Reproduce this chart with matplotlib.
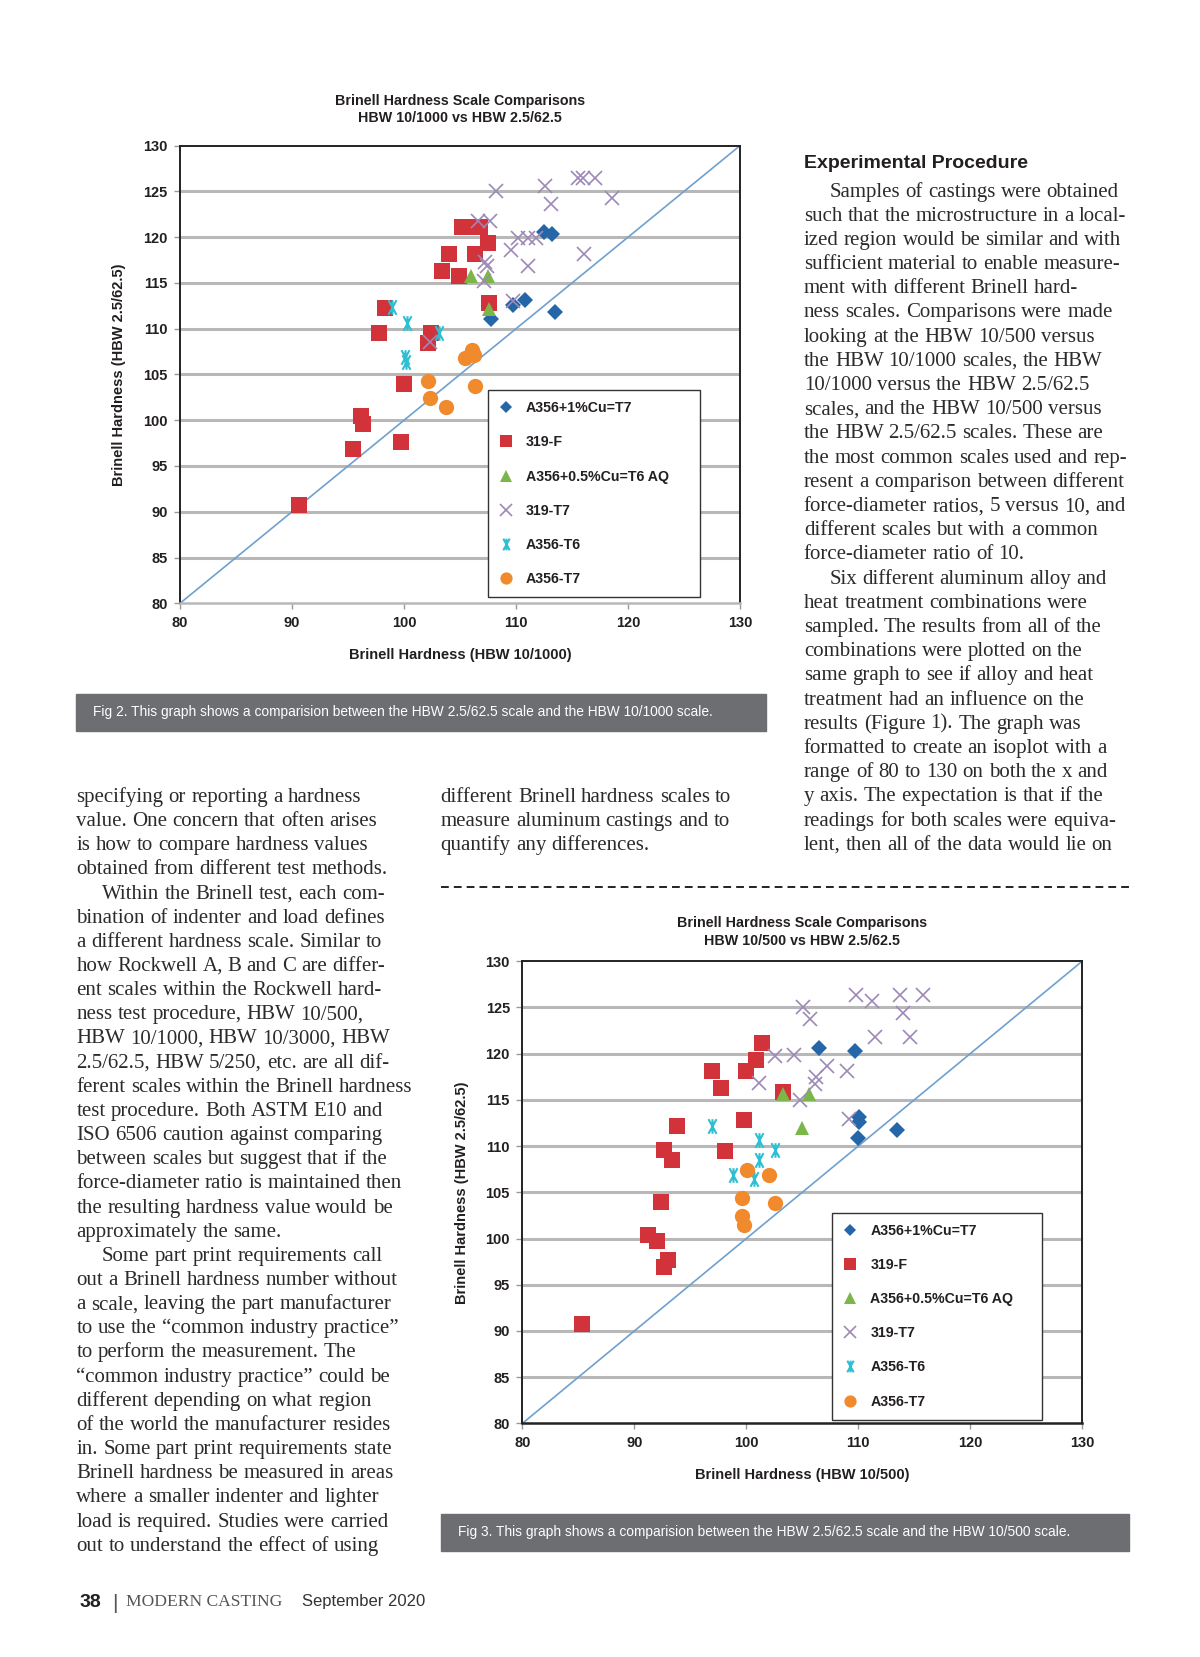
import matplotlib
matplotlib.use("Agg")
import matplotlib.pyplot as plt
from matplotlib.lines import Line2D
from matplotlib.patches import Rectangle
from matplotlib.path import Path

# ---------------- data ----------------
series_names = ["A356+1%Cu=T7", "319-F", "A356+0.5%Cu=T6 AQ", "319-T7", "A356-T6", "A356-T7"]

# Fig 2: HBW 10/1000 (x) vs HBW 2.5/62.5 (y)
f2_cu1_x = [112.5, 113.2, 109.7, 110.8, 113.5, 107.8]
f2_cu1_y = [120.6, 120.3, 112.6, 113.1, 111.8, 111.0]
f2_319f_x = [105.2, 106.0, 106.8, 107.5, 104.0, 106.3, 103.4, 104.9, 107.6, 98.3, 97.8,
             102.4, 102.1, 100.0, 96.2, 96.3, 95.4, 99.7, 90.6]
f2_319f_y = [121.1, 121.1, 121.1, 119.3, 118.1, 118.1, 116.3, 115.7, 112.8, 112.2, 109.5,
             109.5, 108.4, 104.0, 100.5, 99.6, 96.9, 97.6, 90.7]
f2_cu05_x = [106.0, 107.5, 107.6]
f2_cu05_y = [115.7, 115.7, 112.1]
f2_319t7_x = [115.5, 116.0, 117.0, 112.6, 108.2, 113.1, 118.6, 106.6, 107.7, 110.2, 111.1,
              111.8, 109.5, 116.1, 107.2, 107.4, 111.1, 107.1, 109.7, 102.3]
f2_319t7_y = [126.4, 126.4, 126.4, 125.6, 125.0, 123.6, 124.3, 121.8, 121.8, 119.9, 119.9,
              119.9, 118.6, 118.1, 117.3, 116.8, 116.8, 115.2, 113.0, 108.5]
f2_t6_x = [98.9, 100.3, 103.1, 100.1, 100.2]
f2_t6_y = [112.4, 110.6, 109.5, 106.9, 106.4]
f2_t7_x = [105.4, 106.1, 106.2, 102.1, 106.3, 102.3, 103.7]
f2_t7_y = [106.8, 107.7, 107.1, 104.3, 103.7, 102.4, 101.4]

# Fig 3: HBW 10/500 (x) vs HBW 2.5/62.5 (y)
f3_cu1_x = [106.5, 109.7, 110.1, 110.1, 110.0, 113.5]
f3_cu1_y = [120.6, 120.3, 113.2, 112.6, 110.9, 111.7]
f3_319f_x = [101.4, 100.9, 100.0, 96.9, 97.7, 103.3, 93.8, 99.8, 92.6, 93.4, 98.1,
             92.4, 91.2, 92.0, 93.0, 92.6, 85.3]
f3_319f_y = [121.2, 119.3, 118.1, 118.1, 116.3, 115.8, 112.2, 112.8, 109.6, 108.5, 109.5,
             104.0, 100.4, 99.7, 97.7, 96.9, 90.8]
f3_cu05_x = [103.3, 105.6, 105.0]
f3_cu05_y = [115.6, 115.6, 112.0]
f3_319t7_x = [109.8, 111.2, 113.7, 115.8, 105.1, 105.7, 114.0, 111.5, 114.6, 102.6, 104.3,
              107.2, 109.0, 101.1, 106.2, 106.1, 104.8, 109.2]
f3_319t7_y = [126.3, 125.7, 126.3, 126.3, 125.0, 123.7, 124.4, 121.8, 121.8, 119.8, 119.9,
              118.7, 118.1, 116.8, 117.5, 116.7, 115.0, 112.9]
f3_t6_x = [96.9, 101.1, 102.6, 101.1, 98.8, 100.7]
f3_t6_y = [112.2, 110.7, 109.6, 108.5, 106.9, 106.4]
f3_t7_x = [100.1, 102.0, 99.6, 102.6, 99.6, 99.8]
f3_t7_y = [107.4, 106.9, 104.4, 103.8, 102.4, 101.5]

ticks = [80, 85, 90, 95, 100, 105, 110, 115, 120, 125, 130]
xticks = [80, 90, 100, 110, 120, 130]

# ---------------- styles ----------------
SANS = ["Liberation Sans", "DejaVu Sans"]
SERIF = ["Liberation Serif", "DejaVu Serif"]
INK = "#231f20"

# excel style "star": an X with a vertical bar through it
star = Path([(-0.55, -1), (0.55, 1), (-0.55, 1), (0.55, -1), (0, -1), (0, 1)],
            [Path.MOVETO, Path.LINETO, Path.MOVETO, Path.LINETO, Path.MOVETO, Path.LINETO])

styles = [
    dict(marker="D", color="#2466a8", ms=8.0, mew=0, mfc="#2466a8"),
    dict(marker="s", color="#d2323a", ms=11.5, mew=0, mfc="#d2323a"),
    dict(marker="^", color="#7ab648", ms=10, mew=0, mfc="#7ab648"),
    dict(marker="x", color="#9d88b8", ms=10, mew=1.2, mfc="#9d88b8"),
    dict(marker=star, color="#2cc0d2", ms=10.5, mew=1.5, mfc="none"),
    dict(marker="o", color="#f08a2c", ms=11, mew=0, mfc="#f08a2c"),
]

W, H = 1130.0, 1560.0  # page coordinates used for layout
fig = plt.figure(figsize=(12, 16.57), dpi=100)
fig.patch.set_facecolor("white")


def fx(x):
    return x / W


def fy(y):
    return 1 - y / H


def chart(rect, data, title2, xlabel, leg_box, bottom_col, tpad):
    ax = fig.add_axes(rect)
    ax.set_xlim(80, 130)
    ax.set_ylim(80, 130)
    for yv in ticks[1:-1]:
        ax.axhline(yv, color="#b8b8b8", lw=2.2, zorder=0)
    ax.plot([80, 130], [80, 130], color="#6fa0cf", lw=1.2, zorder=1)
    handles = []
    for (xs, ys), st, name in zip(data, styles, series_names):
        ax.plot(xs, ys, ls="none", marker=st["marker"], color=st["color"], mfc=st["mfc"],
                mec=st["color"], ms=st["ms"], mew=st["mew"], zorder=3)
        handles.append(Line2D([], [], ls="none", marker=st["marker"], color=st["color"],
                              mfc=st["mfc"], mec=st["color"],
                              ms=st["ms"] * 0.8, mew=st["mew"], label=name))
    for side in ["top", "right", "left"]:
        ax.spines[side].set_color("#222222")
        ax.spines[side].set_linewidth(1.4)
    ax.spines["bottom"].set_color(bottom_col)
    ax.spines["bottom"].set_linewidth(1.8)
    ax.set_yticks(ticks)
    ax.set_xticks(xticks)
    ax.tick_params(axis="both", length=4, width=1, color="#999999", labelsize=10.5,
                   labelcolor=INK, pad=5)
    for lab in ax.get_xticklabels() + ax.get_yticklabels():
        lab.set_fontfamily(SANS)
        lab.set_fontweight("bold")
    ax.set_xlabel(xlabel, fontsize=10.5, fontweight="bold", family=SANS, color=INK, labelpad=13)
    ax.set_ylabel("Brinell Hardness (HBW 2.5/62.5)", fontsize=10.5, fontweight="bold",
                  family=SANS, color=INK, labelpad=12)
    ax.set_title("Brinell Hardness Scale Comparisons\n" + title2, fontsize=10.3,
                 fontweight="bold", family=SANS, color=INK, pad=tpad, linespacing=1.3)
    leg = ax.legend(handles=handles, loc="upper left", bbox_to_anchor=leg_box, mode="expand",
                    frameon=True, fancybox=False, edgecolor="#333333", framealpha=1,
                    prop=dict(family=SANS, weight="bold", size=10.2),
                    labelspacing=1.42, handlelength=1.0, handletextpad=0.9,
                    borderpad=0.8, borderaxespad=0)
    leg.get_frame().set_linewidth(1.0)
    for t in leg.get_texts():
        t.set_color(INK)
    return ax


data2 = [(f2_cu1_x, f2_cu1_y), (f2_319f_x, f2_319f_y), (f2_cu05_x, f2_cu05_y),
         (f2_319t7_x, f2_319t7_y), (f2_t6_x, f2_t6_y), (f2_t7_x, f2_t7_y)]
data3 = [(f3_cu1_x, f3_cu1_y), (f3_319f_x, f3_319f_y), (f3_cu05_x, f3_cu05_y),
         (f3_319t7_x, f3_319t7_y), (f3_t6_x, f3_t6_y), (f3_t7_x, f3_t7_y)]

chart([fx(169.5), fy(568), fx(697) - fx(169.5), fy(137) - fy(568)], data2,
      "HBW 10/1000 vs HBW 2.5/62.5", "Brinell Hardness (HBW 10/1000)",
      (0.549, 0.02, 0.379, 0.446), "#b8b8b8", 17)
chart([fx(492), fy(1340), fx(1019) - fx(492), fy(905) - fy(1340)], data3,
      "HBW 10/500 vs HBW 2.5/62.5", "Brinell Hardness (HBW 10/500)",
      (0.553, 0.01, 0.376, 0.446), "#222222", 12)

# captions
for (x0, x1, y0, y1, txt) in [
    (72, 721, 653, 688, "Fig 2. This graph shows a comparision between the HBW 2.5/62.5 scale and the HBW 10/1000 scale."),
    (415, 1063, 1425, 1460, "Fig 3. This graph shows a comparision between the HBW 2.5/62.5 scale and the HBW 10/500 scale."),
]:
    fig.patches.append(Rectangle((fx(x0), fy(y1)), fx(x1) - fx(x0), fy(y0) - fy(y1),
                                 transform=fig.transFigure, color="#6d6e71", zorder=0))
    fig.text(fx(x0 + 16), fy((y0 + y1) / 2), txt, color="white", fontsize=9.9,
             family=SANS, va="center", ha="left")

# dashed separator
fig.add_artist(Line2D([fx(415), fx(1063)], [fy(835), fy(835)], color="#222222",
                      lw=1.4, ls=(0, (4, 2.6)), transform=fig.transFigure))

# ---------------- body text ----------------
left_col = [
    ("specifying or reporting a hardness", 0),
    ("value. One concern that often arises", 0),
    ("is how to compare hardness values", 0),
    ("obtained from different test methods.", 0),
    ("Within the Brinell test, each com-", 1),
    ("bination of indenter and load defines", 0),
    ("a different hardness scale. Similar to", 0),
    ("how Rockwell A, B and C are differ-", 0),
    ("ent scales within the Rockwell hard-", 0),
    ("ness test procedure, HBW 10/500,", 0),
    ("HBW 10/1000, HBW 10/3000, HBW", 0),
    ("2.5/62.5, HBW 5/250, etc. are all dif-", 0),
    ("ferent scales within the Brinell hardness", 0),
    ("test procedure. Both ASTM E10 and", 0),
    ("ISO 6506 caution against comparing", 0),
    ("between scales but suggest that if the", 0),
    ("force-diameter ratio is maintained then", 0),
    ("the resulting hardness value would be", 0),
    ("approximately the same.", 0),
    ("Some part print requirements call", 1),
    ("out a Brinell hardness number without", 0),
    ("a scale, leaving the part manufacturer", 0),
    ("to use the \u201ccommon industry practice\u201d", 0),
    ("to perform the measurement. The", 0),
    ("\u201ccommon industry practice\u201d could be", 0),
    ("different depending on what region", 0),
    ("of the world the manufacturer resides", 0),
    ("in. Some part print requirements state", 0),
    ("Brinell hardness be measured in areas", 0),
    ("where a smaller indenter and lighter", 0),
    ("load is required. Studies were carried", 0),
    ("out to understand the effect of using", 0),
]
mid_col = [
    ("different Brinell hardness scales to", 0),
    ("measure aluminum castings and to", 0),
    ("quantify any differences.", 0),
]
right_col = [
    ("Samples of castings were obtained", 1),
    ("such that the microstructure in a local-", 0),
    ("ized region would be similar and with", 0),
    ("sufficient material to enable measure-", 0),
    ("ment with different Brinell hard-", 0),
    ("ness scales. Comparisons were made", 0),
    ("looking at the HBW 10/500 versus", 0),
    ("the HBW 10/1000 scales, the HBW", 0),
    ("10/1000 versus the HBW 2.5/62.5", 0),
    ("scales, and the HBW 10/500 versus", 0),
    ("the HBW 2.5/62.5 scales. These are", 0),
    ("the most common scales used and rep-", 0),
    ("resent a comparison between different", 0),
    ("force-diameter ratios, 5 versus 10, and", 0),
    ("different scales but with a common", 0),
    ("force-diameter ratio of 10.", 0),
    ("Six different aluminum alloy and", 1),
    ("heat treatment combinations were", 0),
    ("sampled. The results from all of the", 0),
    ("combinations were plotted on the", 0),
    ("same graph to see if alloy and heat", 0),
    ("treatment had an influence on the", 0),
    ("results (Figure 1). The graph was", 0),
    ("formatted to create an isoplot with a", 0),
    ("range of 80 to 130 on both the x and", 0),
    ("y axis. The expectation is that if the", 0),
    ("readings for both scales were equiva-", 0),
    ("lent, then all of the data would lie on", 0),
]

body = dict(fontsize=15, family=SERIF, color="#2b2b2b", va="baseline", ha="left")
fig.canvas.draw()
rend = fig.canvas.get_renderer()
SC = fig.bbox.width / W
probe = fig.text(0, 0, "", **body)


def tw(s):
    probe.set_text(s)
    return probe.get_window_extent(rend).width / SC


def column(lines, x0, y0, step):
    # one text per word so each word keeps its own place on the line
    for i, (s, ind) in enumerate(lines):
        yb = fy(y0 + i * step + 6)
        xs = x0 + (24 if ind else 0)
        words = s.split()
        for j, w in enumerate(words):
            off = 0 if j == 0 else tw(" ".join(words[:j]) + " x") - tw("x")
            fig.text(fx(xs + off), yb, w, **body)


column(left_col, 72, 749, 22.74)
column(mid_col, 415, 749, 22.7)
column(right_col, 757, 179, 22.78)
probe.remove()

fig.text(fx(757), fy(158), "Experimental Procedure", fontsize=14, fontweight="bold",
         family=SANS, color=INK, va="baseline")

# footer
fig.text(fx(75), fy(1513), "38", fontsize=14, fontweight="bold", family=SANS,
         color=INK, va="baseline")
fig.text(fx(106), fy(1515), "|", fontsize=15, family=SANS,
         color="#555555", va="baseline")
fig.text(fx(119), fy(1512), "MODERN CASTING", fontsize=12.6, family=SERIF,
         color="#555555", va="baseline")
fig.text(fx(284), fy(1512), "September 2020", fontsize=12, family=SANS,
         color="#333333", va="baseline")

fig.savefig("out.png", dpi=100, facecolor="white")
